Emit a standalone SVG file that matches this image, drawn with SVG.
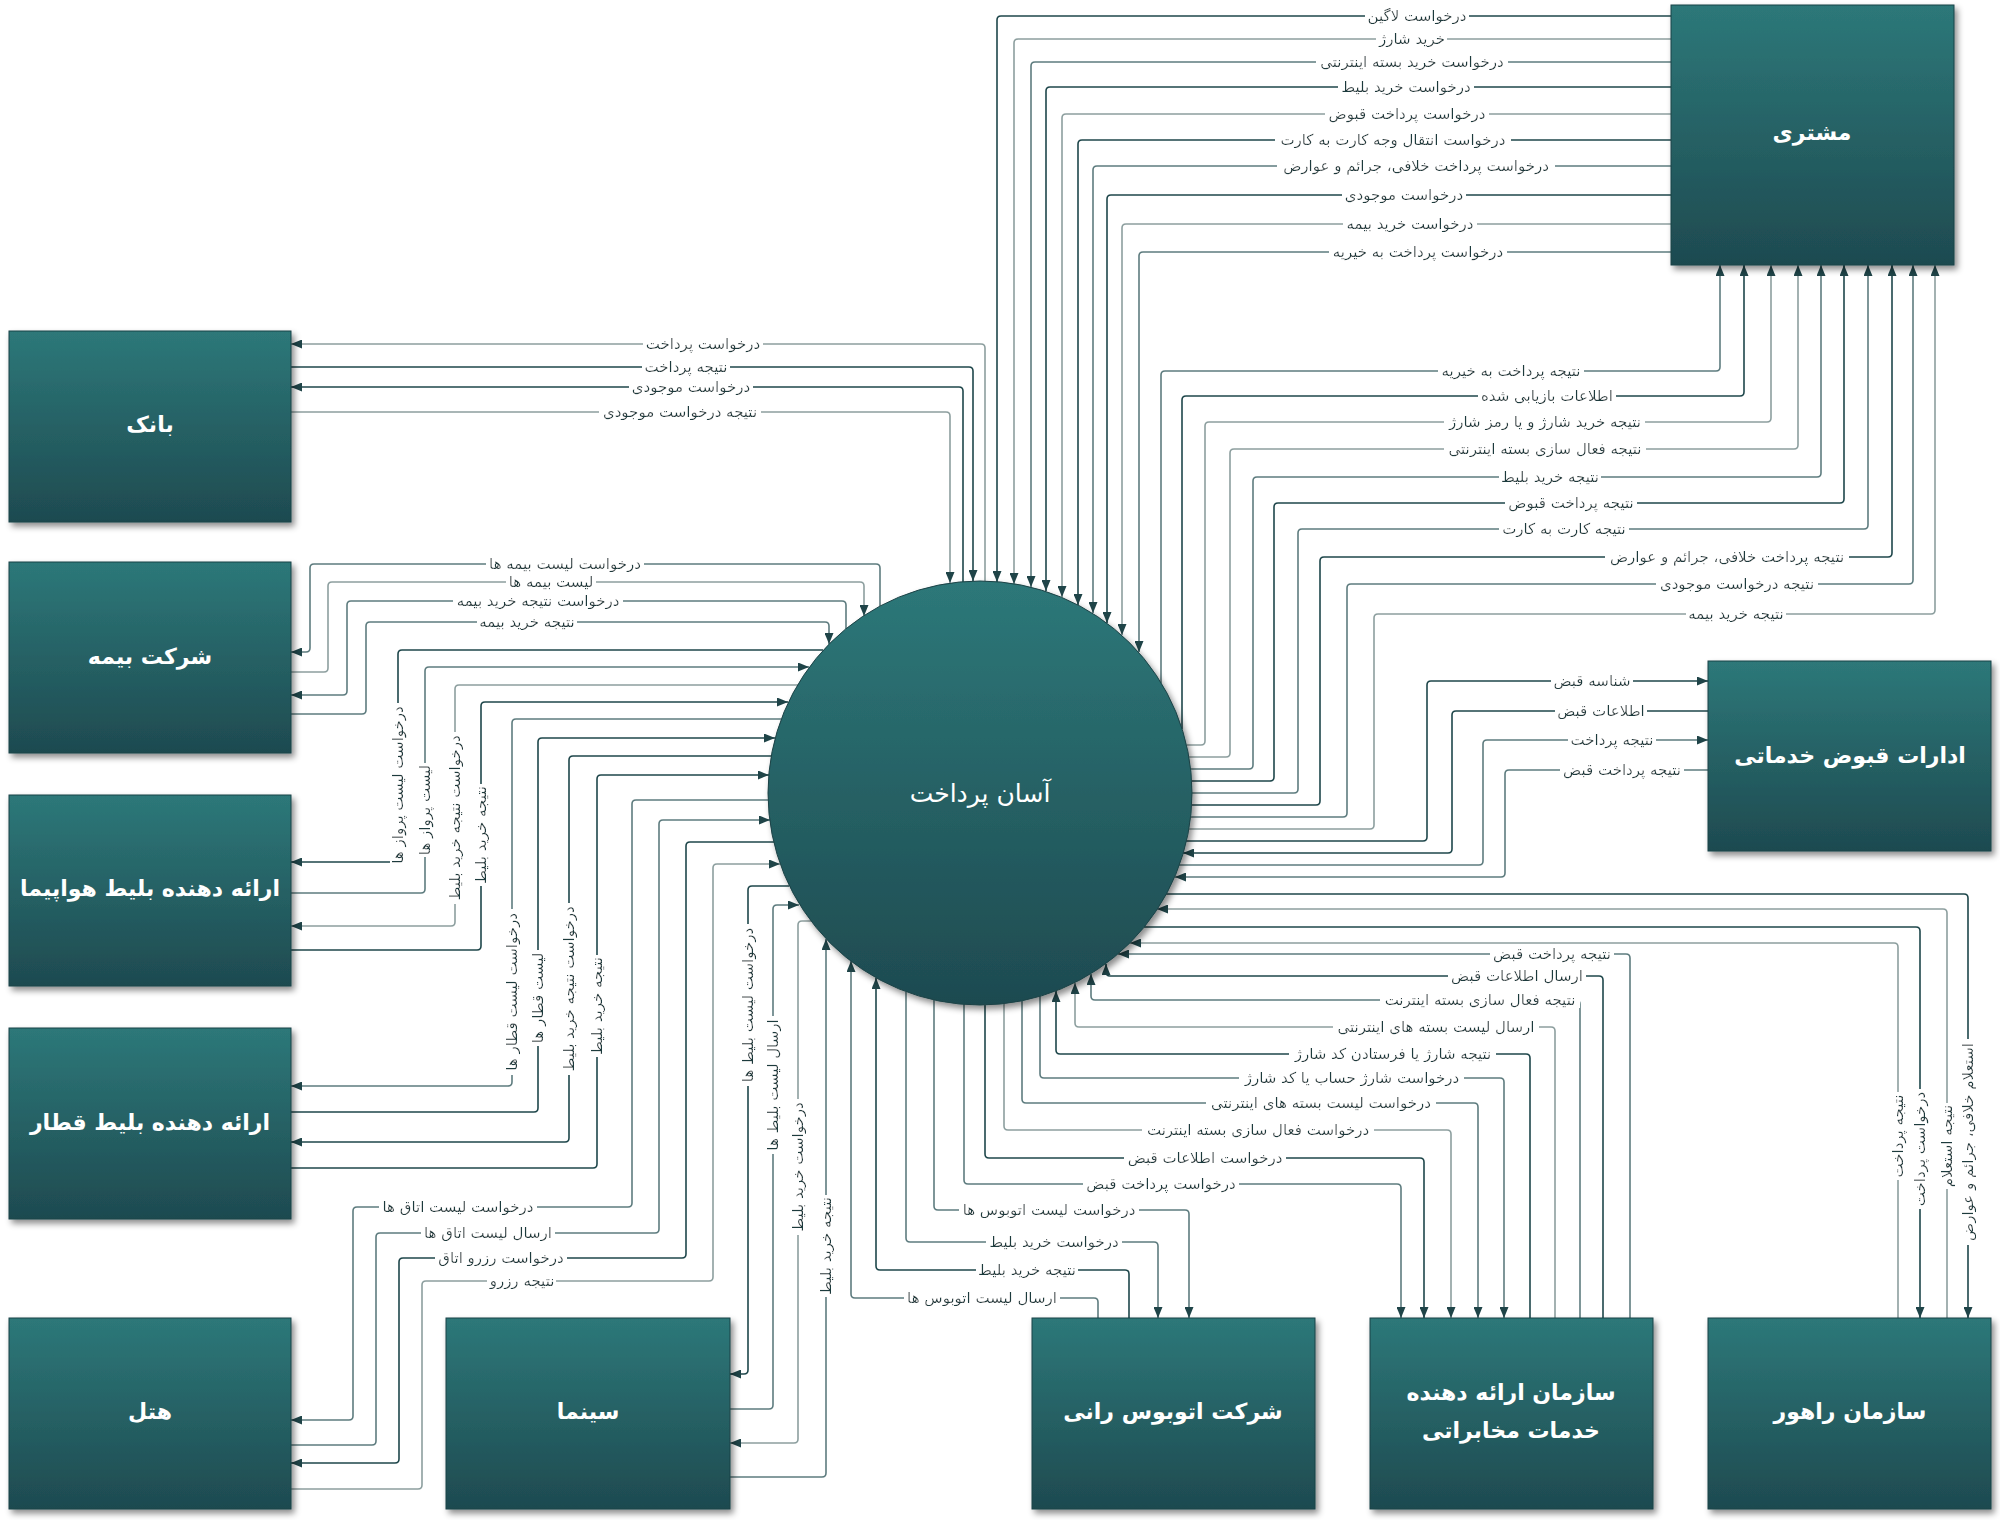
<svg xmlns="http://www.w3.org/2000/svg" width="2000" height="1520" viewBox="0 0 2000 1520">
<defs>
<linearGradient id="g" x1="0" y1="0" x2="0" y2="1"><stop offset="0" stop-color="#2d7879"/><stop offset="1" stop-color="#1e4a50"/></linearGradient>
<filter id="sh" x="-10%" y="-10%" width="125%" height="125%"><feDropShadow dx="3" dy="4" stdDeviation="3" flood-color="#000" flood-opacity="0.45"/></filter>
<filter id="bg" x="-0.02" y="0.06" width="1.04" height="0.88"><feFlood flood-color="#fff"/><feComposite in="SourceGraphic"/></filter>
<marker id="a" viewBox="0 0 11 9" refX="11" refY="4.5" markerWidth="11" markerHeight="9" markerUnits="userSpaceOnUse" orient="auto"><path d="M0,0L11,4.5L0,9z" fill="#1f4448"/></marker>
<style>
.nd rect,.nd circle{fill:url(#g);stroke:#1c4246;stroke-width:1;filter:url(#sh)}
.nt{font-family:"DejaVu Sans",sans-serif;font-weight:bold;font-size:22px;fill:#fff;text-anchor:middle;dominant-baseline:central;direction:rtl}
#conn path{fill:none;stroke-width:1.6}
#conn path.e{marker-end:url(#a)}
.d{stroke:#1f474b}.m{stroke:#5e7c7f}.l{stroke:#8d9f9f}
.t{font-family:"DejaVu Sans",sans-serif;font-size:15px;fill:#1e3a3d;text-anchor:middle;dominant-baseline:central;direction:rtl;filter:url(#bg)}
</style>
</defs>
<rect width="2000" height="1520" fill="#fff"/>

<g id="conn">
<!-- customer requests -->
<path class="d e" d="M1671 16H1001Q997 16 997 20V582"/>
<path class="l e" d="M1671 39H1018Q1014 39 1014 43V584"/>
<path class="m e" d="M1671 62H1035Q1031 62 1031 66V587"/>
<path class="d e" d="M1671 87H1050Q1046 87 1046 91V591"/>
<path class="l e" d="M1671 114H1066Q1062 114 1062 118V597"/>
<path class="d e" d="M1671 140H1082Q1078 140 1078 144V605"/>
<path class="m e" d="M1671 166H1097Q1093 166 1093 170V613"/>
<path class="d e" d="M1671 195H1111Q1107 195 1107 199V623"/>
<path class="l e" d="M1671 224H1126Q1122 224 1122 228V635"/>
<path class="m e" d="M1671 252H1143Q1139 252 1139 256V652"/>
<!-- customer results -->
<path class="m e" d="M1161 683V375Q1161 371 1165 371H1716Q1720 371 1720 367V265"/>
<path class="d e" d="M1182 729V400Q1182 396 1186 396H1740Q1744 396 1744 392V265"/>
<path class="l e" d="M1187 745H1201Q1205 745 1205 741V426Q1205 422 1209 422H1767Q1771 422 1771 418V265"/>
<path class="l e" d="M1189 757H1226Q1230 757 1230 753V453Q1230 449 1234 449H1794Q1798 449 1798 445V265"/>
<path class="m e" d="M1191 769H1249Q1253 769 1253 765V481Q1253 477 1257 477H1817Q1821 477 1821 473V265"/>
<path class="d e" d="M1192 781H1270Q1274 781 1274 777V507Q1274 503 1278 503H1840Q1844 503 1844 499V265"/>
<path class="m e" d="M1192 793H1294Q1298 793 1298 789V533Q1298 529 1302 529H1864Q1868 529 1868 525V265"/>
<path class="d e" d="M1192 805H1316Q1320 805 1320 801V561Q1320 557 1324 557H1888Q1892 557 1892 553V265"/>
<path class="m e" d="M1191 817H1343Q1347 817 1347 813V588Q1347 584 1351 584H1909Q1913 584 1913 580V265"/>
<path class="l e" d="M1189 829H1370Q1374 829 1374 825V618Q1374 614 1378 614H1931Q1935 614 1935 610V265"/>
<!-- ghabz -->
<path class="d e" d="M1186 841H1423Q1427 841 1427 837V685Q1427 681 1431 681H1708"/>
<path class="d e" d="M1708 711H1456Q1452 711 1452 715V849Q1452 853 1448 853H1183"/>
<path class="m e" d="M1179 865H1479Q1483 865 1483 861V744Q1483 740 1487 740H1708"/>
<path class="m e" d="M1708 770H1509Q1505 770 1505 774V873Q1505 877 1501 877H1175"/>
<!-- rahvar -->
<path class="d e" d="M1166 894H1964Q1968 894 1968 898V1318"/>
<path class="l e" d="M1947 1318V913Q1947 909 1943 909H1157"/>
<path class="d e" d="M1144 927H1916Q1920 927 1920 931V1318"/>
<path class="l e" d="M1898 1318V947Q1898 943 1894 943H1130"/>
<!-- telecom -->
<path class="m e" d="M1630 1318V958Q1630 954 1626 954H1118"/>
<path class="d e" d="M1603 1318V980Q1603 976 1599 976H1110Q1106 976 1106 972V964"/>
<path class="m e" d="M1580 1318V1004Q1580 1000 1576 1000H1095Q1091 1000 1091 996V974"/>
<path class="l e" d="M1555 1318V1031Q1555 1027 1551 1027H1079Q1075 1027 1075 1023V983"/>
<path class="d e" d="M1530 1318V1058Q1530 1054 1526 1054H1060Q1056 1054 1056 1050V991"/>
<path class="m e" d="M1040 996V1074Q1040 1078 1044 1078H1500Q1504 1078 1504 1082V1318"/>
<path class="m e" d="M1022 1001V1099Q1022 1103 1026 1103H1474Q1478 1103 1478 1107V1318"/>
<path class="l e" d="M1004 1004V1126Q1004 1130 1008 1130H1447Q1451 1130 1451 1134V1318"/>
<path class="d e" d="M985 1005V1154Q985 1158 989 1158H1420Q1424 1158 1424 1162V1318"/>
<path class="m e" d="M964 1004V1180Q964 1184 968 1184H1397Q1401 1184 1401 1188V1318"/>
<!-- bus -->
<path class="m e" d="M934 1000V1206Q934 1210 938 1210H1185Q1189 1210 1189 1214V1318"/>
<path class="m e" d="M906 992V1238Q906 1242 910 1242H1154Q1158 1242 1158 1246V1318"/>
<path class="d e" d="M1129 1318V1274Q1129 1270 1125 1270H880Q876 1270 876 1266V978"/>
<path class="m e" d="M1098 1318V1302Q1098 1298 1094 1298H855Q851 1298 851 1294V961"/>
<!-- cinema -->
<path class="d e" d="M789 886H752Q748 886 748 890V1370Q748 1374 744 1374H730"/>
<path class="m e" d="M730 1409H769Q773 1409 773 1405V909Q773 905 777 905H799"/>
<path class="l e" d="M811 921H802Q798 921 798 925V1439Q798 1443 794 1443H730"/>
<path class="m e" d="M730 1477H822Q826 1477 826 1473V939"/>
<!-- hotel -->
<path class="m e" d="M768 800H636Q632 800 632 804V1203Q632 1207 628 1207H357Q353 1207 353 1211V1416Q353 1420 349 1420H291"/>
<path class="m e" d="M291 1445H372Q376 1445 376 1441V1237Q376 1233 380 1233H655Q659 1233 659 1229V824Q659 820 663 820H770"/>
<path class="d e" d="M774 842H690Q686 842 686 846V1254Q686 1258 682 1258H403Q399 1258 399 1262V1459Q399 1463 395 1463H291"/>
<path class="l e" d="M291 1489H418Q422 1489 422 1485V1285Q422 1281 426 1281H709Q713 1281 713 1277V868Q713 864 717 864H780"/>
<!-- train -->
<path class="m e" d="M781 719H516Q512 719 512 723V1082Q512 1086 508 1086H291"/>
<path class="d e" d="M291 1112H534Q538 1112 538 1108V742Q538 738 542 738H775"/>
<path class="d e" d="M771 756H573Q569 756 569 760V1138Q569 1142 565 1142H291"/>
<path class="d e" d="M291 1168H593Q597 1168 597 1164V779Q597 775 601 775H769"/>
<!-- airplane -->
<path class="d e" d="M823 650H402Q398 650 398 654V858Q398 862 394 862H291"/>
<path class="m e" d="M291 893H421Q425 893 425 889V671Q425 667 429 667H809"/>
<path class="l e" d="M798 685H459Q455 685 455 689V922Q455 926 451 926H291"/>
<path class="d e" d="M291 950H477Q481 950 481 946V706Q481 702 485 702H788"/>
<!-- insurance -->
<path class="m e" d="M880 606V568Q880 564 876 564H314Q310 564 310 568V648Q310 652 306 652H291"/>
<path class="l e" d="M291 672H324Q328 672 328 668V586Q328 582 332 582H860Q864 582 864 586V616"/>
<path class="m e" d="M846 629V605Q846 601 842 601H351Q347 601 347 605V691Q347 695 343 695H291"/>
<path class="m e" d="M291 714H362Q366 714 366 710V626Q366 622 370 622H825Q829 622 829 626V644"/>
<!-- bank -->
<path class="l e" d="M985 581V348Q985 344 981 344H291"/>
<path class="d e" d="M291 367H969Q973 367 973 371V581"/>
<path class="d e" d="M963 582V391Q963 387 959 387H291"/>
<path class="l e" d="M291 412H946Q950 412 950 416V583"/>
</g>

<g id="labels">
<text class="t" x="1417" y="16">درخواست لاگین</text>
<text class="t" x="1412" y="39">خرید شارژ</text>
<text class="t" x="1412" y="62">درخواست خرید بسته اینترنتی</text>
<text class="t" x="1406" y="87">درخواست خرید بلیط</text>
<text class="t" x="1407" y="114">درخواست پرداخت قبوض</text>
<text class="t" x="1393" y="140">درخواست انتقال وجه کارت به کارت</text>
<text class="t" x="1416" y="166">درخواست پرداخت خلافی، جرائم و عوارض</text>
<text class="t" x="1404" y="195">درخواست موجودی</text>
<text class="t" x="1410" y="224">درخواست خرید بیمه</text>
<text class="t" x="1418" y="252">درخواست پرداخت به خیریه</text>

<text class="t" x="1511" y="371">نتیجه پرداخت به خیریه</text>
<text class="t" x="1547" y="396">اطلاعات بازیابی شده</text>
<text class="t" x="1545" y="422">نتیجه خرید شارژ و یا رمز شارژ</text>
<text class="t" x="1545" y="449">نتیجه فعال سازی بسته اینترنتی</text>
<text class="t" x="1550" y="477">نتیجه خرید بلیط</text>
<text class="t" x="1571" y="503">نتیجه پرداخت قبوض</text>
<text class="t" x="1564" y="529">نتیجه کارت به کارت</text>
<text class="t" x="1727" y="557">نتیجه پرداخت خلافی، جرائم و عوارض</text>
<text class="t" x="1737" y="584">نتیجه درخواست موجودی</text>
<text class="t" x="1736" y="614">نتیجه خرید بیمه</text>

<text class="t" x="1592" y="681">شناسه قبض</text>
<text class="t" x="1601" y="711">اطلاعات قبض</text>
<text class="t" x="1612" y="740">نتیجه پرداخت</text>
<text class="t" x="1622" y="770">نتیجه پرداخت قبض</text>

<text class="t" transform="translate(1898 1136) rotate(-90)">نتیجه پرداخت</text>
<text class="t" transform="translate(1920 1149) rotate(-90)">درخواست پرداخت</text>
<text class="t" transform="translate(1947 1146) rotate(-90)">نتیجه استعلام</text>
<text class="t" transform="translate(1968 1142) rotate(-90)">استعلام خلافی، جرائم و عوارض</text>

<text class="t" x="1552" y="954">نتیجه پرداخت قبض</text>
<text class="t" x="1517" y="976">ارسال اطلاعات قبض</text>
<text class="t" x="1480" y="1000">نتیجه فعال سازی بسته اینترنت</text>
<text class="t" x="1436" y="1027">ارسال لیست بسته های اینترنتی</text>
<text class="t" x="1393" y="1054">نتیجه شارژ یا فرستادن کد شارژ</text>
<text class="t" x="1352" y="1078">درخواست شارژ حساب یا کد شارژ</text>
<text class="t" x="1321" y="1103">درخواست لیست بسته های اینترنتی</text>
<text class="t" x="1258" y="1130">درخواست فعال سازی بسته اینترنت</text>
<text class="t" x="1205" y="1158">درخواست اطلاعات قبض</text>
<text class="t" x="1161" y="1184">درخواست پرداخت قبض</text>

<text class="t" x="1049" y="1210">درخواست لیست اتوبوس ها</text>
<text class="t" x="1054" y="1242">درخواست خرید بلیط</text>
<text class="t" x="1027" y="1270">نتیجه خرید بلیط</text>
<text class="t" x="982" y="1298">ارسال لیست اتوبوس ها</text>

<text class="t" transform="translate(748 1005) rotate(-90)">درخواست لیست بلیط ها</text>
<text class="t" transform="translate(773 1085) rotate(-90)">ارسال لیست بلیط ها</text>
<text class="t" transform="translate(798 1167) rotate(-90)">درخواست خرید بلیط</text>
<text class="t" transform="translate(826 1246) rotate(-90)">نتیجه خرید بلیط</text>

<text class="t" x="458" y="1207">درخواست لیست اتاق ها</text>
<text class="t" x="488" y="1233">ارسال لیست اتاق ها</text>
<text class="t" x="501" y="1258">درخواست رزرو اتاق</text>
<text class="t" x="522" y="1281">نتیجه رزرو</text>

<text class="t" transform="translate(512 992) rotate(-90)">درخواست لیست قطار ها</text>
<text class="t" transform="translate(538 998) rotate(-90)">لیست قطار ها</text>
<text class="t" transform="translate(569 989) rotate(-90)">درخواست نتیجه خرید بلیط</text>
<text class="t" transform="translate(597 1006) rotate(-90)">نتیجه خرید بلیط</text>

<text class="t" transform="translate(398 785) rotate(-90)">درخواست لیست پرواز ها</text>
<text class="t" transform="translate(425 810) rotate(-90)">لیست پرواز ها</text>
<text class="t" transform="translate(455 818) rotate(-90)">درخواست نتیجه خرید بلیط</text>
<text class="t" transform="translate(481 835) rotate(-90)">نتیجه خرید بلیط</text>

<text class="t" x="565" y="564">درخواست لیست بیمه ها</text>
<text class="t" x="551" y="582">لیست بیمه ها</text>
<text class="t" x="538" y="601">درخواست نتیجه خرید بیمه</text>
<text class="t" x="527" y="622">نتیجه خرید بیمه</text>

<text class="t" x="703" y="344">درخواست پرداخت</text>
<text class="t" x="686" y="367">نتیجه پرداخت</text>
<text class="t" x="691" y="387">درخواست موجودی</text>
<text class="t" x="680" y="412">نتیجه درخواست موجودی</text>
</g>

<g id="system" class="nd"><circle cx="980" cy="793" r="212"/><text class="nt" x="980" y="793" style="font-weight:normal;font-size:25px">آسان پرداخت</text></g>
<g id="customer" class="nd"><rect x="1671" y="5" width="283" height="260"/><text class="nt" x="1812" y="132">مشتری</text></g>
<g id="bank" class="nd"><rect x="9" y="331" width="282" height="191"/><text class="nt" x="150" y="424">بانک</text></g>
<g id="insurance" class="nd"><rect x="9" y="562" width="282" height="191"/><text class="nt" x="150" y="656">شرکت بیمه</text></g>
<g id="airline" class="nd"><rect x="9" y="795" width="282" height="191"/><text class="nt" x="150" y="888">ارائه دهنده بلیط هواپیما</text></g>
<g id="train" class="nd"><rect x="9" y="1028" width="282" height="191"/><text class="nt" x="150" y="1122">ارائه دهنده بلیط قطار</text></g>
<g id="hotel" class="nd"><rect x="9" y="1318" width="282" height="191"/><text class="nt" x="150" y="1411">هتل</text></g>
<g id="cinema" class="nd"><rect x="446" y="1318" width="284" height="191"/><text class="nt" x="588" y="1411">سینما</text></g>
<g id="bus" class="nd"><rect x="1032" y="1318" width="283" height="191"/><text class="nt" x="1173" y="1411">شرکت اتوبوس رانی</text></g>
<g id="telecom" class="nd"><rect x="1370" y="1318" width="283" height="191"/><text class="nt" x="1511" y="1392">سازمان ارائه دهنده</text><text class="nt" x="1511" y="1430">خدمات مخابراتی</text></g>
<g id="rahvar" class="nd"><rect x="1708" y="1318" width="283" height="191"/><text class="nt" x="1850" y="1411">سازمان راهور</text></g>
<g id="ghabz" class="nd"><rect x="1708" y="661" width="283" height="190"/><text class="nt" x="1850" y="755">ادارات قبوض خدماتی</text></g>
</svg>
